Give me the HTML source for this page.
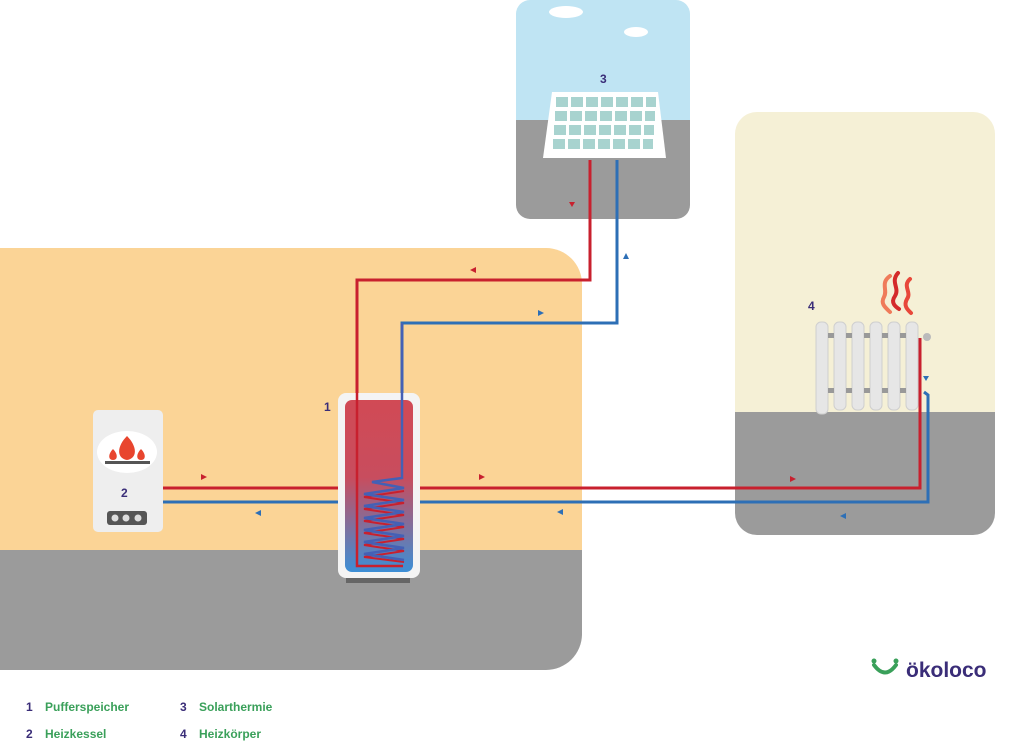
<!DOCTYPE html>
<html><head><meta charset="utf-8"><style>
html,body{margin:0;padding:0;background:#fff;width:1024px;height:744px;overflow:hidden}
svg{display:block}
text{font-family:"Liberation Sans",sans-serif;font-weight:bold}
</style></head><body>
<svg width="1024" height="744" viewBox="0 0 1024 744">
<defs>
<clipPath id="cr"><rect x="-40" y="248" width="622" height="422" rx="36"/></clipPath>
<clipPath id="cs"><rect x="516" y="0" width="174" height="219" rx="14"/></clipPath>
<clipPath id="cq"><rect x="735" y="112" width="260" height="423" rx="22"/></clipPath>
<linearGradient id="tg" x1="0" y1="0" x2="0" y2="1">
<stop offset="0" stop-color="#d14a55"/><stop offset="0.45" stop-color="#c84d5e"/><stop offset="1" stop-color="#3d8fd6"/></linearGradient>
</defs>
<g clip-path="url(#cr)">
<rect x="-40" y="248" width="622" height="302" fill="#fbd496"/>
<rect x="-40" y="550" width="622" height="120" fill="#9b9b9b"/>
</g>
<g clip-path="url(#cs)">
<rect x="516" y="0" width="174" height="120" fill="#bfe4f3"/>
<rect x="516" y="120" width="174" height="99" fill="#9b9b9b"/>
</g>
<ellipse cx="566" cy="12" rx="17" ry="6" fill="#fff"/>
<ellipse cx="636" cy="32" rx="12" ry="5" fill="#fff"/>
<g clip-path="url(#cq)">
<rect x="735" y="112" width="260" height="300" fill="#f5f0d6"/>
<rect x="735" y="412" width="260" height="123" fill="#9b9b9b"/>
</g>
<polygon points="552,92 658,92 666,158 543,158" fill="#fff"/>
<g fill="#a8d3cf">
<g id="row">
<rect x="556" y="97" width="12" height="10"/><rect x="571" y="97" width="12" height="10"/><rect x="586" y="97" width="12" height="10"/><rect x="601" y="97" width="12" height="10"/><rect x="616" y="97" width="12" height="10"/><rect x="631" y="97" width="12" height="10"/><rect x="646" y="97" width="10" height="10"/>
</g>
<use href="#row" transform="translate(-1,14)"/>
<use href="#row" transform="translate(-2,28)"/>
<use href="#row" transform="translate(-3,42)"/>
</g>
<g fill="none" stroke-width="3">
<polyline points="590,160 590,280 357,280 357,566" stroke="#c8202e"/>
<polyline points="617,160 617,323 402,323 402,478 380,480" stroke="#2d6fb6"/>
<polyline points="163,488 340,488" stroke="#c8202e"/>
<polyline points="163,502 340,502" stroke="#2d6fb6"/>
<polyline points="418,488 920,488 920,338" stroke="#c8202e"/>
<polyline points="418,502 928,502 928,395 924,392" stroke="#2d6fb6"/>
</g>
<rect x="346" y="576" width="64" height="7" fill="#666"/>
<rect x="338" y="393" width="82" height="185" rx="8" fill="#f4f4f4"/>
<rect x="345" y="400" width="68" height="172" rx="7" fill="url(#tg)"/>
<polyline points="357,280 357,566 403,566" fill="none" stroke="#c8202e" stroke-width="2.5"/>
<polyline points="404,491 364,497 404,503 364,509 404,515 364,521 404,527 364,533 404,539 364,545 404,551 364,557 404,562" fill="none" stroke="#c8202e" stroke-width="2"/>
<polyline points="402,323 402,478 372,482 404,488 364,494 404,500 364,506 404,512 364,518 404,524 364,530 404,536 364,542 404,548 364,554 404,560" fill="none" stroke="#4460b5" stroke-width="2.5"/>
<rect x="93" y="410" width="70" height="122" rx="5" fill="#eeeeee"/>
<ellipse cx="127" cy="452" rx="30" ry="21" fill="#fff"/>
<rect x="105" y="461" width="45" height="3" fill="#555"/>
<path d="M127,436 C117,446 116,458 127,460 C138,458 137,446 127,436Z" fill="#e8452e"/>
<path d="M113,449 C108,454 108,460 113,460 C118,460 118,454 113,449Z" fill="#e8452e"/>
<path d="M141,449 C136,454 136,460 141,460 C146,460 146,454 141,449Z" fill="#e8452e"/>
<rect x="107" y="511" width="40" height="14" rx="3" fill="#555"/>
<circle cx="115" cy="518" r="3.5" fill="#ddd"/><circle cx="126" cy="518" r="3.5" fill="#ddd"/><circle cx="138" cy="518" r="3.5" fill="#ddd"/>
<g fill="#e6e6e6" stroke="#cfcfcf" stroke-width="1">
<rect x="816" y="322" width="12" height="92" rx="5"/>
<rect x="834" y="322" width="12" height="88" rx="5"/>
<rect x="852" y="322" width="12" height="88" rx="5"/>
<rect x="870" y="322" width="12" height="88" rx="5"/>
<rect x="888" y="322" width="12" height="88" rx="5"/>
<rect x="906" y="322" width="12" height="88" rx="5"/>
</g>
<g fill="#999"><rect x="828" y="333" width="6" height="5"/><rect x="846" y="333" width="6" height="5"/><rect x="864" y="333" width="6" height="5"/><rect x="882" y="333" width="6" height="5"/><rect x="900" y="333" width="6" height="5"/>
<rect x="828" y="388" width="6" height="5"/><rect x="846" y="388" width="6" height="5"/><rect x="864" y="388" width="6" height="5"/><rect x="882" y="388" width="6" height="5"/><rect x="900" y="388" width="6" height="5"/></g>
<circle cx="927" cy="337" r="4" fill="#bbb"/>
<g fill="none" stroke-width="4" stroke-linecap="round">
<path d="M890,276 C880,283 888,290 884,297 C880,304 886,308 890,312" stroke="#ef7b5a"/>
<path d="M898,273 C890,282 900,288 895,296 C890,303 896,307 899,309" stroke="#d42a2a"/>
<path d="M910,279 C902,286 912,292 907,299 C903,306 908,310 911,313" stroke="#e8483a"/>
</g>
<g fill="#c8202e">
<polygon points="569,202 575,202 572,207"/>
<polygon points="470,270 476,267 476,273"/>
<polygon points="207,477 201,474 201,480"/>
<polygon points="485,477 479,474 479,480"/>
<polygon points="796,479 790,476 790,482"/>
</g>
<g fill="#2d6fb6">
<polygon points="623,259 629,259 626,253"/>
<polygon points="544,313 538,310 538,316"/>
<polygon points="255,513 261,510 261,516"/>
<polygon points="557,512 563,509 563,515"/>
<polygon points="840,516 846,513 846,519"/>
<polygon points="923,376 929,376 926,381"/>
</g>
<g fill="#3a2d78" font-size="12">
<text x="600" y="83">3</text>
<text x="324" y="411">1</text>
<text x="121" y="497">2</text>
<text x="808" y="310">4</text>
</g>
<g font-size="12">
<text x="26" y="711" fill="#3a2d78">1</text><text x="45" y="711" fill="#3aa05a">Pufferspeicher</text>
<text x="180" y="711" fill="#3a2d78">3</text><text x="199" y="711" fill="#3aa05a">Solarthermie</text>
<text x="26" y="738" fill="#3a2d78">2</text><text x="45" y="738" fill="#3aa05a">Heizkessel</text>
<text x="180" y="738" fill="#3a2d78">4</text><text x="199" y="738" fill="#3aa05a">Heizkörper</text>
</g>
<path d="M874,665 Q885,680 896,665" fill="none" stroke="#3aa05a" stroke-width="4" stroke-linecap="round"/>
<circle cx="874" cy="661" r="2.5" fill="#3aa05a"/><circle cx="896" cy="661" r="2.5" fill="#3aa05a"/>
<text x="906" y="677" font-size="21" fill="#3a2d78">ökoloco</text>
</svg>
</body></html>
